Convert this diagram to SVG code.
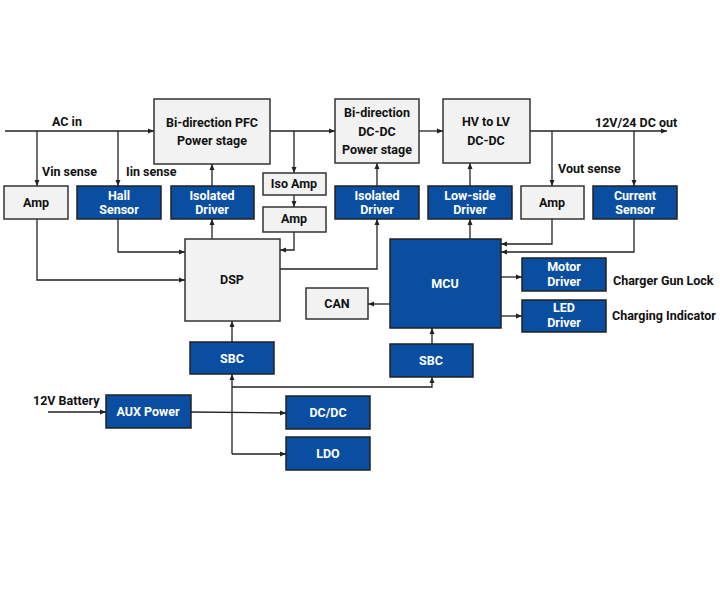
<svg xmlns="http://www.w3.org/2000/svg" width="720" height="600" viewBox="0 0 720 600">
<defs>
<marker id="ah" viewBox="0 0 6 6" refX="6" refY="3" markerWidth="6" markerHeight="6" markerUnits="userSpaceOnUse" orient="auto">
<path d="M0,0.5 L6,3 L0,5.5 Z" fill="#222"/>
</marker>
<style>
.g{fill:#f2f2f2;stroke:#333;stroke-width:1.5}
.b{fill:#0a4ea2;stroke:#222;stroke-width:1.5}
.t{font-family:Roboto,"Liberation Sans",sans-serif;font-weight:bold;font-size:12.5px;text-anchor:middle;fill:#111}
.w{font-family:Roboto,"Liberation Sans",sans-serif;font-weight:bold;font-size:12.5px;text-anchor:middle;fill:#fff}
.l{font-family:Roboto,"Liberation Sans",sans-serif;font-weight:bold;font-size:12.5px;fill:#111}
.c{fill:none;stroke:#222;stroke-width:1.3}
.a{fill:none;stroke:#222;stroke-width:1.3;marker-end:url(#ah)}
</style>
</defs>
<rect width="720" height="600" fill="#fff"/>
<g id="connectors">
<path class="a" d="M5,131 H154"/>
<path class="a" d="M37,131 V186"/>
<path class="a" d="M118,131 V186"/>
<path class="a" d="M270,131 H335"/>
<path class="a" d="M294,131 V173"/>
<path class="a" d="M294,195 V207"/>
<path class="a" d="M419,131 H443"/>
<path class="a" d="M530,131 H667"/>
<path class="a" d="M552,131 V186"/>
<path class="a" d="M634,131 V186"/>
<path class="a" d="M212,186 V164"/>
<path class="a" d="M377,186 V163"/>
<path class="a" d="M470,186 V163"/>
<path class="a" d="M37,219 V280 H185"/>
<path class="a" d="M118,219 V252 H185"/>
<path class="a" d="M212,239 V219"/>
<path class="a" d="M294,232 V250 H280"/>
<path class="a" d="M280,269 H377 V219"/>
<path class="a" d="M470,239 V219"/>
<path class="a" d="M552,219 V244 H501"/>
<path class="a" d="M634,219 V252 H501"/>
<path class="a" d="M501,277 H522"/>
<path class="a" d="M501,316 H522"/>
<path class="a" d="M390,304 H368"/>
<path class="a" d="M232,342 V321"/>
<path class="a" d="M432,344 V328"/>
<path class="a" d="M232,454 V374"/>
<path class="a" d="M232,454 H286"/>
<path class="a" d="M232,387 H432 V377"/>
<path class="a" d="M48,412 H106"/>
<path class="a" d="M191,412 L286,413"/>
</g>
<g id="labels">
<text class="l" x="52" y="126">AC in</text>
<text class="l" x="42" y="176">Vin sense</text>
<text class="l" x="126" y="176">Iin sense</text>
<text class="l" x="595" y="127">12V/24 DC out</text>
<text class="l" x="558" y="173">Vout sense</text>
<text class="l" x="613" y="285">Charger Gun Lock</text>
<text class="l" x="612" y="320">Charging Indicator</text>
<text class="l" x="33" y="405">12V Battery</text>
</g>
<g id="pfc"><rect class="g" x="154" y="99" width="116" height="65"/><text class="t" x="212" y="127">Bi-direction PFC</text><text class="t" x="212" y="145">Power stage</text></g>
<g id="dcdc-stage"><rect class="g" x="335" y="99" width="84" height="64"/><text class="t" x="377" y="117">Bi-direction</text><text class="t" x="377" y="136">DC-DC</text><text class="t" x="377" y="154">Power stage</text></g>
<g id="hvlv"><rect class="g" x="443" y="99" width="87" height="64"/><text class="t" x="486" y="126">HV to LV</text><text class="t" x="486" y="145">DC-DC</text></g>
<g id="amp-in"><rect class="g" x="4" y="186" width="64" height="33"/><text class="t" x="36" y="207">Amp</text></g>
<g id="hall"><rect class="b" x="77" y="186" width="84" height="33"/><text class="w" x="119" y="200">Hall</text><text class="w" x="119" y="214">Sensor</text></g>
<g id="iso-drv-pfc"><rect class="b" x="171" y="186" width="83" height="33"/><text class="w" x="212" y="200">Isolated</text><text class="w" x="212" y="214">Driver</text></g>
<g id="iso-amp"><rect class="g" x="263" y="173" width="63" height="22"/><text class="t" x="294" y="188">Iso Amp</text></g>
<g id="amp-mid"><rect class="g" x="263" y="207" width="63" height="25"/><text class="t" x="294" y="223">Amp</text></g>
<g id="iso-drv-dc"><rect class="b" x="335" y="186" width="84" height="33"/><text class="w" x="377" y="200">Isolated</text><text class="w" x="377" y="214">Driver</text></g>
<g id="low-drv"><rect class="b" x="428" y="186" width="84" height="33"/><text class="w" x="470" y="200">Low-side</text><text class="w" x="470" y="214">Driver</text></g>
<g id="amp-out"><rect class="g" x="521" y="186" width="63" height="33"/><text class="t" x="552" y="207">Amp</text></g>
<g id="cur-sensor"><rect class="b" x="593" y="186" width="84" height="33"/><text class="w" x="635" y="200">Current</text><text class="w" x="635" y="214">Sensor</text></g>
<g id="dsp"><rect class="g" x="185" y="239" width="95" height="82"/><text class="t" x="232" y="284">DSP</text></g>
<g id="mcu"><rect class="b" x="390" y="239" width="111" height="89"/><text class="w" x="445" y="288">MCU</text></g>
<g id="motor"><rect class="b" x="522" y="258" width="84" height="33"/><text class="w" x="564" y="271">Motor</text><text class="w" x="564" y="286">Driver</text></g>
<g id="led"><rect class="b" x="522" y="300" width="84" height="32"/><text class="w" x="564" y="312">LED</text><text class="w" x="564" y="327">Driver</text></g>
<g id="can"><rect class="g" x="306" y="288" width="62" height="31"/><text class="t" x="337" y="308">CAN</text></g>
<g id="sbc1"><rect class="b" x="190" y="342" width="84" height="32"/><text class="w" x="232" y="363">SBC</text></g>
<g id="sbc2"><rect class="b" x="390" y="344" width="83" height="33"/><text class="w" x="431" y="365">SBC</text></g>
<g id="aux"><rect class="b" x="106" y="395" width="85" height="33"/><text class="w" x="148" y="416">AUX Power</text></g>
<g id="dcdc"><rect class="b" x="286" y="396" width="84" height="33"/><text class="w" x="328" y="417">DC/DC</text></g>
<g id="ldo"><rect class="b" x="286" y="437" width="84" height="33"/><text class="w" x="328" y="458">LDO</text></g>
</svg>
